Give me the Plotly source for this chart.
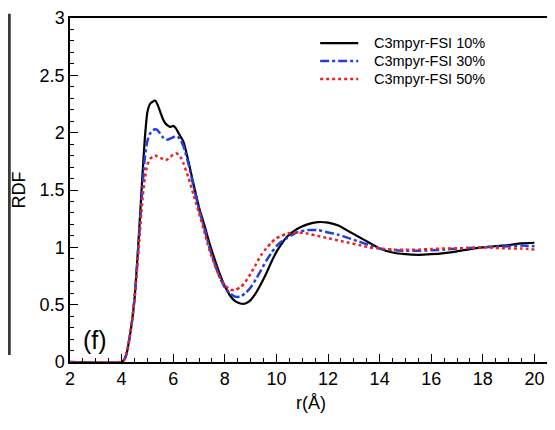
import plotly.graph_objects as go

r_vals = [2.0, 4.0, 4.1, 4.2, 4.3, 4.4, 4.5, 4.6, 4.7, 4.8, 4.9, 5.0, 5.1, 5.2, 5.3, 5.4, 5.5,
          5.6, 5.7, 5.8, 5.9, 6.0, 6.1, 6.2, 6.3, 6.4, 6.6, 6.8, 7.0, 7.2, 7.4, 7.6, 7.8,
          8.0, 8.2, 8.4, 8.6, 8.8, 9.0, 9.2, 9.4, 9.6, 9.8, 10.0, 10.2, 10.4, 10.8, 11.2,
          11.6, 12.0, 12.4, 12.8, 13.2, 13.6, 14.0, 14.5, 15.0, 15.5, 16.0, 16.5, 17.0,
          17.5, 18.0, 18.5, 19.0, 19.5, 20.0]

rdf_10 = [0, 0, 0.02, 0.08, 0.2, 0.35, 0.55, 0.86, 1.22, 1.6, 1.95, 2.18, 2.25, 2.27, 2.28,
          2.24, 2.18, 2.12, 2.08, 2.06, 2.05, 2.06, 2.04, 2.0, 1.96, 1.92, 1.74, 1.54,
          1.35, 1.2, 1.04, 0.9, 0.77, 0.66, 0.58, 0.53, 0.51, 0.51, 0.54, 0.6, 0.68,
          0.77, 0.87, 0.96, 1.03, 1.09, 1.16, 1.2, 1.22, 1.215, 1.19, 1.14, 1.09, 1.04,
          0.99, 0.955, 0.94, 0.935, 0.94, 0.95, 0.965, 0.985, 1.0, 1.01, 1.02, 1.035, 1.04]

rdf_30 = [0, 0, 0.02, 0.08, 0.2, 0.35, 0.55, 0.84, 1.17, 1.5, 1.78, 1.93, 1.99, 2.02, 2.03,
          2.02, 1.99, 1.96, 1.94, 1.94, 1.95, 1.96, 1.97, 1.96, 1.93, 1.88, 1.72, 1.52,
          1.33, 1.17, 1.0, 0.86, 0.74, 0.65, 0.6, 0.57, 0.57, 0.6, 0.65, 0.72, 0.8,
          0.88, 0.95, 1.01, 1.05, 1.08, 1.13, 1.15, 1.15, 1.13, 1.11, 1.08, 1.05, 1.02,
          0.99, 0.975, 0.97, 0.97, 0.975, 0.98, 0.99, 0.995, 1.0, 1.005, 1.01, 1.015, 1.01]

rdf_50 = [0, 0, 0.02, 0.08, 0.2, 0.35, 0.55, 0.82, 1.1, 1.4, 1.6, 1.72, 1.77, 1.79, 1.80,
          1.79, 1.78, 1.77, 1.76, 1.77, 1.79, 1.81, 1.82, 1.81, 1.78, 1.73, 1.6, 1.45,
          1.3, 1.14, 0.98, 0.85, 0.74, 0.67, 0.63, 0.63, 0.65, 0.7, 0.77, 0.85, 0.93,
          0.99, 1.04, 1.08, 1.1, 1.12, 1.13, 1.12, 1.1, 1.08, 1.06, 1.04, 1.02, 1.0,
          0.99, 0.98, 0.98, 0.98, 0.985, 0.99, 0.99, 0.995, 1.0, 0.995, 0.99, 0.99, 0.98]

series_names = ["C3mpyr-FSI 10%", "C3mpyr-FSI 30%", "C3mpyr-FSI 50%"]
x_ticks = [2, 4, 6, 8, 10, 12, 14, 16, 18, 20]
y_ticks = [0, 0.5, 1, 1.5, 2, 2.5, 3]
y_tick_text = ["0", "0.5", "1", "1.5", "2", "2.5", "3"]

FONT = "Liberation Sans, Arial, Helvetica, sans-serif"
styles = [
    dict(color="black", width=2.2, dash="solid"),
    dict(color="#1f3fe6", width=2.5, dash="dashdot"),
    dict(color="#ee2222", width=2.5, dash="dot"),
]

fig = go.Figure()
for ys, name, st in zip([rdf_10, rdf_30, rdf_50], series_names, styles):
    fig.add_trace(go.Scatter(x=r_vals, y=ys, mode="lines", name=name, showlegend=False,
                             line=dict(color=st["color"], width=st["width"], dash=st["dash"],
                                       shape="spline", smoothing=0.6)))

# page body adds an 8px offset, so the figure is sized to fill the rest of the window
fig.update_layout(
    width=547, height=422,
    margin=dict(l=62, r=3, t=10, b=68),
    paper_bgcolor="white", plot_bgcolor="white",
    font=dict(family=FONT, color="black"),
    showlegend=False,
    xaxis=dict(range=[2, 20.68], tickvals=x_ticks, ticks="inside", ticklen=8,
               tickwidth=1.2, tickcolor="black", showline=True, linecolor="black",
               linewidth=1.5, mirror=True, showgrid=False, zeroline=False,
               automargin=False,
               tickfont=dict(size=18, family=FONT),
               minor=dict(dtick=0.5, ticks="inside", ticklen=4, tickcolor="black", showgrid=False),
               title=dict(text="r(Å)", font=dict(size=18, family=FONT), standoff=8)),
    yaxis=dict(range=[0, 3], tickvals=y_ticks, ticktext=y_tick_text, ticks="inside",
               ticklen=8, tickwidth=1.2, tickcolor="black", showline=True,
               linecolor="black", linewidth=1.5, mirror=True, showgrid=False,
               zeroline=False, automargin=False, tickfont=dict(size=18, family=FONT),
               minor=dict(dtick=0.1, ticks="inside", ticklen=4, tickcolor="black", showgrid=False),
               title=dict(text="RDF", font=dict(size=18, family=FONT), standoff=9)),
)

# Custom legend (placed to match the reference box)
leg_y = [0.927, 0.875, 0.823]
for name, st, yy in zip(series_names, styles, leg_y):
    fig.add_shape(type="line", xref="paper", yref="paper", x0=0.519, x1=0.598, y0=yy, y1=yy,
                  line=dict(color=st["color"], width=st["width"], dash=st["dash"]))
    fig.add_annotation(text=name, xref="paper", yref="paper", x=0.627, y=yy,
                       xanchor="left", yanchor="middle", showarrow=False,
                       font=dict(size=14.5, family=FONT, color="black"))

fig.add_annotation(text="(f)", xref="paper", yref="paper", x=0.022, y=0.018,
                   xanchor="left", yanchor="bottom", showarrow=False,
                   font=dict(size=25, family=FONT, color="black"))

fig.add_shape(type="line", xref="paper", yref="paper", x0=-0.126, x1=-0.126,
              y0=0.02, y1=1.012, line=dict(color="#3a3a3a", width=3))

fig.write_html("out.html")
